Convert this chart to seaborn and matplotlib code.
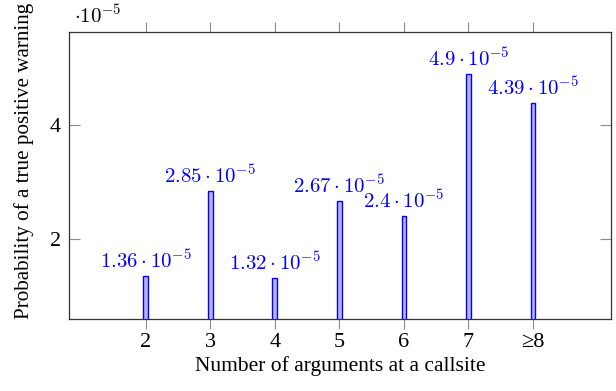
import matplotlib
matplotlib.use("Agg")
import matplotlib.pyplot as plt
import seaborn as sns
import pandas as pd

# Daten (in Einheiten von 10^-5)
categories = ["2", "3", "4", "5", "6", "7", "≥8"]
probabilities = [1.36, 2.85, 1.32, 2.67, 2.4, 4.9, 4.39]
value_labels = ["1.36", "2.85", "1.32", "2.67", "2.4", "4.9", "4.39"]
y_ticks = [2, 4]

sns.set_style("white")
plt.rcParams["font.family"] = ["Liberation Serif", "DejaVu Serif"]
plt.rcParams["mathtext.fontset"] = "cm"
plt.rcParams["text.color"] = "black"
plt.rcParams["axes.labelcolor"] = "black"

df = pd.DataFrame({"args": categories, "prob": probabilities})

fig = plt.figure(figsize=(6.16, 3.91), dpi=100)
ax = fig.add_axes([0.112, 0.184, 0.88, 0.734])

sns.barplot(data=df, x="args", y="prob", ax=ax, width=0.075,
            color=(0.7, 0.7, 1.0), edgecolor="blue", linewidth=1.0,
            saturation=1)

# Beschriftung über den Balken
for i, (v, lab) in enumerate(zip(probabilities, value_labels)):
    ax.annotate(rf"${lab}\cdot 10^{{-5}}$", (i, v), xytext=(0, 2),
                textcoords="offset points", ha="center", va="bottom",
                color="blue", fontsize=15)

ax.set_xlim(-1.19, 7.21)
ax.set_ylim(0.6, 5.63)
ax.set_yticks(y_ticks)
ax.set_yticklabels([str(t) for t in y_ticks], fontsize=16)
ax.set_xticks(range(len(categories)))
ax.set_xticklabels(categories, fontsize=16)

ax.tick_params(axis="x", direction="out", length=7, width=0.8,
               color="#8c8c8c", labelcolor="black", top=True, bottom=True, pad=3)
ax.tick_params(axis="y", direction="in", length=8, width=0.8,
               color="#8c8c8c", labelcolor="black", left=True, right=True, pad=6)
for s in ax.spines.values():
    s.set_color("#333333")
    s.set_linewidth(0.9)
    s.set_visible(True)

ax.set_xlabel("Number of arguments at a callsite", fontsize=15.5, labelpad=3)
ax.set_ylabel("Probability of a true positive warning", fontsize=15.2)
ax.yaxis.set_label_coords(-0.064, 0.55)

# Exponent oben links
ax.text(0.01, 1.015, r"$\cdot 10^{-5}$", transform=ax.transAxes,
        ha="left", va="bottom", fontsize=15)

fig.savefig("out.png", dpi=100)
